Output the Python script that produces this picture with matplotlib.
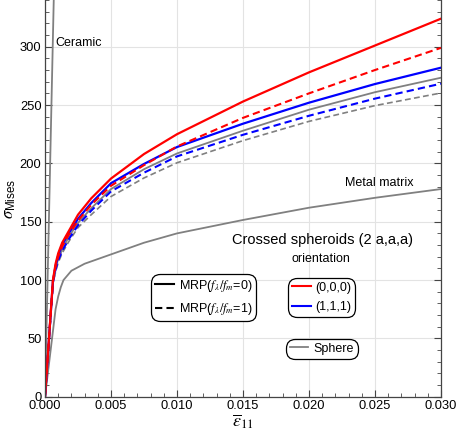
#!/usr/bin/env python3
"""Stress-strain response of crossed spheroid composites vs. sphere, matrix and ceramic."""

import matplotlib.pyplot as plt
from matplotlib.lines import Line2D
from matplotlib.ticker import MultipleLocator, FormatStrFormatter

plt.rcParams["font.family"] = ["Liberation Sans", "DejaVu Sans"]
plt.rcParams["mathtext.fontset"] = "custom"
plt.rcParams["mathtext.rm"] = "STIXGeneral"
plt.rcParams["mathtext.it"] = "STIXGeneral:italic"
plt.rcParams["mathtext.bf"] = "STIXGeneral:bold"
plt.rcParams["mathtext.sf"] = "Liberation Sans"

# strain grid shared by the composite curves
eps = [0, 0.0006, 0.0008, 0.001, 0.0013, 0.0018, 0.0025, 0.0035, 0.005,
       0.0075, 0.010, 0.015, 0.020, 0.025, 0.030]

red_solid = [0, 100, 114, 123, 132, 142, 156, 170, 187, 208, 225, 253, 278, 301, 324]
red_dashed = [0, 99, 112, 120, 129, 139, 151, 164.5, 180.8, 198.5, 214.5, 239, 260, 280, 299]
blue_solid = [0, 99, 112, 121, 130, 140, 152.5, 166, 183, 199.5, 214, 234, 252, 268, 282]
blue_dashed = [0, 98, 109, 117, 125, 135, 147, 159.5, 176, 192, 206, 224.5, 240.8, 255.5, 268.3]
gray_solid = [0, 98, 110, 118, 126, 137, 149, 161.5, 178, 195, 208.5, 228, 246, 261, 273.4]
gray_dashed = [0, 97, 107, 115, 123, 133, 145, 156, 171.6, 187.5, 200.5, 219.5, 236, 249.5, 260.3]

metal_eps = [0, 0.0008, 0.001, 0.0012, 0.0014, 0.002, 0.003, 0.004, 0.005, 0.0075,
             0.010, 0.015, 0.020, 0.025, 0.030]
metal_sig = [0, 75, 86, 94, 100, 108, 114, 118, 122, 132, 140, 151.5, 162, 170.5, 178]

ceramic_eps = [0, 0.0007]
ceramic_sig = [0, 360]

RED = "#ff0000"
BLUE = "#0000ff"
GRAY = "#808080"
DASH = (0, (3.5, 2))

fig = plt.figure(figsize=(4.57, 4.36), dpi=100)
ax = fig.add_axes([0.0985, 0.090, 0.8665, 0.910])

ax.plot(ceramic_eps, ceramic_sig, color=GRAY, lw=1.3)
ax.plot(metal_eps, metal_sig, color=GRAY, lw=1.3)
ax.plot(eps, gray_dashed, color=GRAY, lw=1.2, linestyle=DASH)
ax.plot(eps, gray_solid, color=GRAY, lw=1.3)
ax.plot(eps, blue_dashed, color=BLUE, lw=1.5, linestyle=DASH)
ax.plot(eps, blue_solid, color=BLUE, lw=1.6)
ax.plot(eps, red_dashed, color=RED, lw=1.5, linestyle=DASH)
ax.plot(eps, red_solid, color=RED, lw=1.6)

ax.set_xlim(0, 0.030)
ax.set_ylim(0, 340)
ax.xaxis.set_major_locator(MultipleLocator(0.005))
ax.xaxis.set_minor_locator(MultipleLocator(0.001))
ax.xaxis.set_major_formatter(FormatStrFormatter("%.3f"))
ax.yaxis.set_major_locator(MultipleLocator(50))
ax.yaxis.set_minor_locator(MultipleLocator(10))
ax.tick_params(which="both", direction="in", right=True, top=False,
               color="#444444", labelsize=9.3, pad=2.5)
ax.tick_params(which="major", length=5, width=0.8)
ax.tick_params(which="minor", length=3, width=0.6)
ax.grid(True, which="major", color="#e3e3e3", lw=0.8)
ax.set_axisbelow(True)
for side in ("left", "right", "bottom"):
    ax.spines[side].set_color("#444444")
    ax.spines[side].set_linewidth(0.9)
ax.spines["top"].set_visible(False)

ax.set_xlabel(r"$\overline{\varepsilon}_{11}$", fontsize=13, labelpad=0)
ax.set_ylabel(r"$\sigma_{\mathsf{Mises}}$", fontsize=12, labelpad=1)

ax.text(0.00078, 303, "Ceramic", fontsize=9, va="center")
ax.text(0.0227, 183, "Metal matrix", fontsize=9, va="center")
ax.text(0.0210, 134.5, "Crossed spheroids (2 a,a,a)", fontsize=10.5, ha="center", va="center")
ax.text(0.0209, 118, "orientation", fontsize=9, ha="center", va="center")

frame = dict(frameon=True, fancybox=True, edgecolor="black", framealpha=1,
             fontsize=9, handlelength=1.5, handletextpad=0.4, borderpad=0.3,
             borderaxespad=0, labelspacing=0.6, loc="center")


def round_frame(leg):
    leg.get_frame().set_boxstyle("round,pad=0,rounding_size=0.7")
    leg.get_frame().set_linewidth(0.9)
    return leg


style_handles = [Line2D([], [], color="black", lw=1.5),
                 Line2D([], [], color="black", lw=1.5, linestyle=DASH)]
style_labels = [r"MRP($f_\lambda/f_m$=0)", r"MRP($f_\lambda/f_m$=1)"]
leg1 = round_frame(ax.legend(style_handles, style_labels, bbox_to_anchor=(0.40, 0.250), **frame))
ax.add_artist(leg1)

orient_handles = [Line2D([], [], color=RED, lw=1.5), Line2D([], [], color=BLUE, lw=1.5)]
leg2 = round_frame(ax.legend(orient_handles, ["(0,0,0)", "(1,1,1)"],
                             bbox_to_anchor=(0.699, 0.250), **frame))
ax.add_artist(leg2)

sphere_handles = [Line2D([], [], color=GRAY, lw=1.3)]
round_frame(ax.legend(sphere_handles, ["Sphere"], bbox_to_anchor=(0.699, 0.121), **frame))

fig.savefig("out.png", dpi=100)
